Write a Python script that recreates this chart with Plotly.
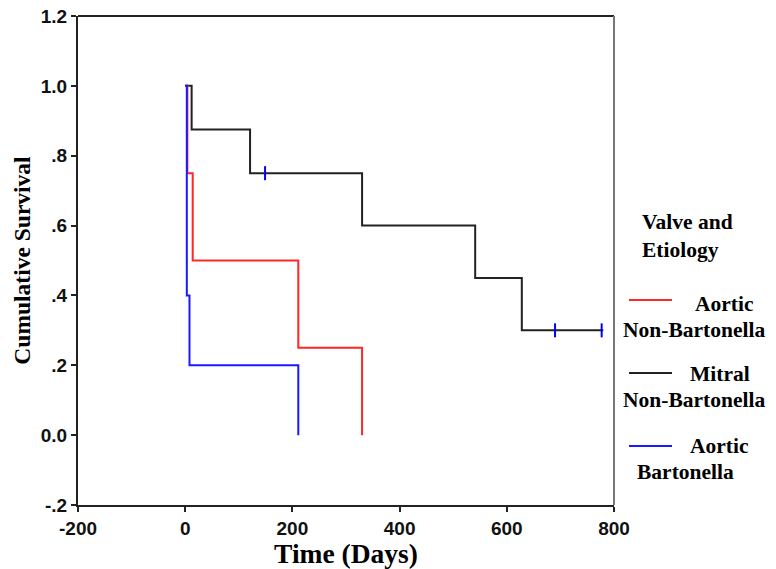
import plotly.graph_objects as go

# ---- data ----
mitral_nb_days = [0, 12, 121, 330, 541, 628, 780]
mitral_nb_surv = [1.0, 0.875, 0.75, 0.6, 0.45, 0.3, 0.3]
mitral_nb_cens_days = [149, 690, 777]
mitral_nb_cens_surv = [0.75, 0.3, 0.3]

aortic_nb_days = [0, 4, 14, 211, 330]
aortic_nb_surv = [1.0, 0.75, 0.5, 0.25, 0.0]

aortic_b_days = [0, 3, 8, 211]
aortic_b_surv = [1.0, 0.4, 0.2, 0.0]

x_ticks = [-200, 0, 200, 400, 600, 800]
x_tick_labels = ["-200", "0", "200", "400", "600", "800"]
y_ticks = [-0.2, 0.0, 0.2, 0.4, 0.6, 0.8, 1.0, 1.2]
y_tick_labels = ["-.2", "0.0", ".2", ".4", ".6", ".8", "1.0", "1.2"]

# page body has an 8px margin, so the figure is sized/offset accordingly
OFF = 8
W, H = 776 - 2 * OFF, 569 - OFF
L, T = 78 - OFF, 16 - OFF
PW, PH = 536, 489
R = W - L - PW
B = H - T - PH

SERIF = "Liberation Serif, Times New Roman, serif"
SANS = "Liberation Sans, Arial, sans-serif"

fig = go.Figure()
fig.add_trace(go.Scatter(x=mitral_nb_days, y=mitral_nb_surv, mode="lines",
                         line=dict(color="#222222", width=2, shape="hv"),
                         showlegend=False))
fig.add_trace(go.Scatter(x=aortic_nb_days, y=aortic_nb_surv, mode="lines",
                         line=dict(color="#ff2626", width=2, shape="hv"),
                         showlegend=False))
fig.add_trace(go.Scatter(x=aortic_b_days, y=aortic_b_surv, mode="lines",
                         line=dict(color="#1a1aff", width=2, shape="hv"),
                         showlegend=False))
fig.add_trace(go.Scatter(x=mitral_nb_cens_days, y=mitral_nb_cens_surv, mode="markers",
                         marker=dict(symbol="line-ns-open", size=10, color="#0000ff",
                                     line=dict(color="#0000ff", width=2)),
                         showlegend=False))

fig.update_xaxes(range=[-200, 800], tickvals=x_ticks, ticktext=x_tick_labels,
                 ticks="outside", ticklen=5, automargin=False,
                 ticklabeloverflow="allow",
                 tickwidth=2, tickcolor="#222", showline=True, linecolor="#222",
                 linewidth=2, showgrid=False, zeroline=False,
                 tickfont=dict(family=SANS, size=19, color="#111", weight="bold"),
                 title=dict(text="Time (Days)", standoff=5,
                            font=dict(family=SERIF, size=27.5, color="#000", weight="bold")))
fig.update_yaxes(range=[-0.2, 1.2], tickvals=y_ticks, ticktext=y_tick_labels,
                 ticks="outside", ticklen=5, tickwidth=2, tickcolor="#222",
                 showline=True, linecolor="#222", linewidth=2, showgrid=False,
                 zeroline=False, automargin=False, ticklabeloverflow="allow",
                 tickfont=dict(family=SANS, size=19, color="#111", weight="bold"),
                 title=dict(text="Cumulative Survival", standoff=4,
                            font=dict(family=SERIF, size=23.5, color="#000", weight="bold")))


def px(xp):
    return (xp - OFF - L) / PW


def py(yp):
    return (T + PH - (yp - OFF)) / PH


shapes = [
    dict(type="line", xref="paper", yref="paper", x0=0, x1=1, y0=1, y1=1,
         line=dict(color="#222", width=2)),
    dict(type="line", xref="paper", yref="paper", x0=1, x1=1, y0=0, y1=1,
         line=dict(color="#777", width=2)),
]
legend_lines = [(300, "#ff2626"), (373, "#222222"), (446, "#1a1aff")]
for yy, col in legend_lines:
    shapes.append(dict(type="line", xref="paper", yref="paper", x0=px(629), x1=px(672),
                       y0=py(yy), y1=py(yy), line=dict(color=col, width=2)))

legend_texts = [
    ("Valve and<br>Etiology", 640, 236),
    ("Aortic", 693, 304),
    ("Non-Bartonella", 621, 330),
    ("Mitral", 688, 374),
    ("Non-Bartonella", 621, 400),
    ("Aortic", 688, 446),
    ("Bartonella", 635, 472),
]
annotations = []
for txt, xx, yy in legend_texts:
    annotations.append(dict(text=txt, xref="paper", yref="paper", x=px(xx), y=py(yy),
                            xanchor="left", yanchor="middle", align="left",
                            showarrow=False,
                            font=dict(family=SERIF, size=21.5, color="#000", weight="bold")))

fig.update_layout(width=W, height=H, margin=dict(l=L, r=R, t=T, b=B),
                  plot_bgcolor="white", paper_bgcolor="white",
                  shapes=shapes, annotations=annotations)

fig.write_html("out.html")
